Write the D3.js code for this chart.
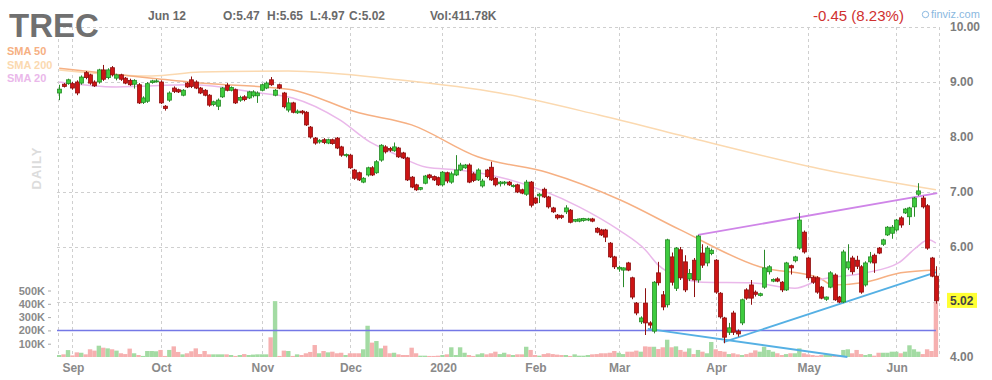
<!DOCTYPE html>
<html>
<head>
<meta charset="utf-8">
<script src="https://cdn.jsdelivr.net/npm/d3@7"></script>
<style>
body { margin: 0; background: #fff; }
text { font-family: Arial, "Liberation Sans", sans-serif; }
</style>
</head>
<body>
<svg id="chart" width="992" height="380"></svg>
<script>
// daily candles, Aug 28 2019 .. Jun 12 2020 (200 sessions)
var opens = [8.80,8.96,8.97,8.97,9.00,8.98,9.17,9.13,9.00,9.00,9.22,9.08,9.26,9.07,9.13,9.07,9.03,8.96,8.95,8.63,
  8.65,8.99,9.01,9.00,8.56,8.67,8.89,8.86,8.76,8.98,9.04,9.00,8.89,8.85,8.76,8.59,8.56,8.73,8.94,8.85,
  8.86,8.67,8.73,8.71,8.75,8.75,8.85,8.89,9.04,8.76,8.95,8.80,8.49,8.62,8.44,8.47,8.45,8.18,7.98,7.91,
  7.95,7.89,7.95,7.98,7.82,7.66,7.67,7.40,7.35,7.18,7.31,7.44,7.35,7.58,7.82,7.79,7.75,7.80,7.71,7.62,
  7.27,7.13,7.05,7.16,7.31,7.28,7.26,7.13,7.35,7.18,7.31,7.40,7.44,7.49,7.33,7.22,7.11,7.40,7.45,7.25,
  7.15,7.16,7.18,7.10,7.13,7.04,6.96,7.18,6.89,6.93,7.05,6.91,6.71,6.58,6.57,6.64,6.67,6.47,6.47,6.48,
  6.49,6.51,6.34,6.31,6.31,6.07,5.82,5.60,5.58,5.71,5.44,4.98,4.64,4.98,4.62,4.47,5.53,5.13,4.95,5.82,
  5.25,5.95,5.73,5.42,5.76,5.40,5.89,5.71,5.88,5.76,5.16,4.71,4.45,4.80,4.47,4.62,5.22,5.31,5.18,5.12,
  5.27,5.55,5.38,5.42,5.36,5.22,5.66,5.75,5.98,6.27,5.80,5.45,5.44,5.27,5.05,5.27,5.49,5.09,5.00,5.62,
  5.80,5.76,5.64,5.31,5.73,5.85,5.98,6.05,6.22,6.25,6.31,6.53,6.62,6.55,6.73,6.96,6.89,6.75,5.80,5.47];
var highs = [8.95,8.98,9.06,9.00,9.03,9.12,9.20,9.15,9.03,9.24,9.31,9.25,9.29,9.15,9.15,9.09,9.06,9.05,8.98,8.74,
  9.00,9.04,9.05,9.03,8.58,8.83,8.92,8.88,8.87,9.00,9.10,9.03,8.91,8.87,8.78,8.66,8.70,8.91,8.98,8.92,
  8.88,8.75,8.76,8.84,8.85,8.83,8.97,9.01,9.09,8.87,8.97,8.82,8.71,8.64,8.50,8.49,8.47,8.20,8.00,7.96,
  7.98,7.97,7.97,8.00,7.84,7.70,7.69,7.42,7.37,7.27,7.46,7.47,7.58,7.87,7.85,7.82,7.90,7.82,7.73,7.64,
  7.29,7.15,7.09,7.31,7.33,7.30,7.28,7.38,7.37,7.37,7.67,7.53,7.51,7.52,7.36,7.43,7.24,7.42,7.55,7.27,
  7.20,7.20,7.20,7.14,7.15,7.06,7.22,7.20,6.91,6.98,7.08,6.93,6.73,6.60,6.59,6.76,6.69,6.51,6.52,6.53,
  6.53,6.53,6.36,6.33,6.33,6.09,5.84,5.66,5.63,5.73,5.46,5.00,4.74,5.25,4.65,5.38,5.73,5.20,6.15,5.90,
  6.00,6.00,5.85,5.60,5.80,6.22,6.05,6.02,5.97,5.78,5.18,4.73,4.62,4.84,4.50,5.06,5.25,5.40,5.21,5.17,
  5.95,5.67,5.43,5.45,5.38,5.73,5.68,5.84,6.62,6.30,5.82,5.48,5.47,5.29,5.10,5.56,5.52,5.11,5.95,6.05,
  5.84,5.84,5.67,5.74,5.91,5.88,6.00,6.15,6.38,6.40,6.51,6.56,6.71,6.73,6.91,7.16,6.93,6.78,5.82,5.65];
var lows = [8.67,8.90,8.95,8.86,8.76,8.95,9.05,8.95,8.91,8.97,9.02,9.05,9.10,9.03,9.02,8.96,8.93,8.88,8.60,8.60,
  8.62,8.97,8.99,8.60,8.48,8.64,8.80,8.80,8.74,8.89,8.89,8.87,8.78,8.74,8.55,8.56,8.49,8.71,8.83,8.83,
  8.60,8.64,8.65,8.69,8.72,8.62,8.83,8.87,8.93,8.74,8.87,8.52,8.45,8.43,8.42,8.41,8.20,7.97,7.86,7.88,
  7.87,7.87,7.86,7.78,7.64,7.63,7.42,7.22,7.20,7.16,7.28,7.29,7.33,7.55,7.70,7.73,7.73,7.62,7.60,7.20,
  7.07,7.02,7.03,7.14,7.23,7.20,7.11,7.10,7.16,7.15,7.29,7.38,7.42,7.16,7.18,7.20,7.08,7.25,7.20,7.10,
  7.10,7.12,7.11,7.08,6.98,6.96,6.93,6.72,6.78,6.80,6.89,6.70,6.62,6.50,6.51,6.60,6.43,6.45,6.45,6.46,
  6.47,6.45,6.25,6.20,6.09,5.80,5.60,5.55,5.27,5.56,5.05,4.76,4.60,4.40,4.52,4.43,5.30,4.85,4.90,5.30,
  5.20,5.40,5.18,5.38,5.09,5.35,5.62,5.65,5.85,5.15,4.70,4.25,4.40,4.40,4.37,4.58,5.04,4.95,5.10,5.10,
  5.24,5.50,5.36,5.36,5.18,5.20,5.50,5.72,5.95,5.88,5.40,5.33,5.15,5.05,5.02,5.25,5.02,4.98,4.98,5.58,
  5.50,5.60,5.15,5.28,5.70,5.53,5.87,6.02,6.20,6.15,6.28,6.35,6.60,6.40,6.55,6.93,6.70,5.95,5.45,4.97];
var closes = [8.87,8.92,9.04,8.89,8.80,9.09,9.08,8.98,8.93,9.22,9.05,9.22,9.13,9.13,9.05,8.98,8.95,9.03,8.62,8.71,
  8.97,9.02,9.02,8.62,8.52,8.80,8.83,8.82,8.85,8.91,8.92,8.89,8.80,8.76,8.58,8.64,8.67,8.89,8.85,8.90,
  8.62,8.72,8.68,8.82,8.82,8.80,8.95,8.98,8.95,8.85,8.89,8.55,8.62,8.45,8.47,8.44,8.22,8.00,7.89,7.94,
  7.90,7.95,7.88,7.80,7.67,7.68,7.44,7.25,7.22,7.25,7.44,7.31,7.55,7.85,7.73,7.76,7.82,7.64,7.62,7.22,
  7.09,7.04,7.08,7.29,7.26,7.22,7.13,7.36,7.20,7.33,7.40,7.49,7.49,7.18,7.21,7.40,7.20,7.28,7.22,7.13,
  7.18,7.18,7.13,7.12,7.00,6.98,7.18,6.76,6.80,6.96,6.91,6.73,6.64,6.53,6.54,6.71,6.45,6.50,6.51,6.52,
  6.51,6.47,6.27,6.22,6.18,5.82,5.64,5.63,5.62,5.58,5.09,4.80,4.71,4.62,4.58,5.36,5.35,4.91,6.13,5.36,
  5.98,5.44,5.22,5.52,5.40,6.20,5.67,5.98,5.94,5.18,4.73,4.36,4.53,4.45,4.42,5.04,5.07,5.07,5.14,5.15,
  5.62,5.64,5.41,5.38,5.22,5.71,5.62,5.82,6.49,5.91,5.44,5.36,5.18,5.07,5.09,5.53,5.04,5.00,5.91,5.73,
  5.55,5.65,5.18,5.71,5.82,5.71,5.89,6.13,6.36,6.36,6.49,6.40,6.69,6.71,6.89,7.02,6.73,5.98,5.47,5.02];
// volume in thousands
var volumes = [15,20,52,12,35,32,20,58,48,85,70,65,58,48,28,22,63,28,15,8,
  45,45,43,53,8,53,80,38,20,28,43,65,22,45,20,20,20,20,20,15,
  8,15,22,15,18,20,20,20,148,420,8,48,45,8,20,15,28,38,90,28,
  45,35,40,28,32,15,28,28,28,58,235,108,120,65,85,28,32,20,15,15,
  70,28,10,10,8,8,10,15,20,73,15,73,32,15,8,20,28,20,28,40,
  22,32,20,15,20,20,77,53,15,10,22,28,22,18,15,15,8,20,10,10,
  15,20,22,28,28,32,45,32,22,40,40,48,40,80,77,77,60,73,130,73,
  80,53,40,65,22,53,40,28,113,58,45,40,22,28,20,15,22,32,50,40,
  77,53,40,28,15,22,28,28,65,28,20,15,10,15,20,15,10,10,53,58,
  28,53,22,15,22,10,32,32,32,40,40,28,40,88,58,40,22,58,45,412];

// moving averages: [session index, price]
var sma20 = [[0,9.00],[13,8.91],[30,8.95],[45.5,8.80],[53,8.71],[63.7,8.31],[70.5,7.91],[75.7,7.71],[83.4,7.45],
  [90.7,7.40],[100,7.27],[118,6.73],[127,6.31],[133,5.95],[136,5.67],[140.8,5.45],[146,5.36],[157,5.35],
  [167,5.25],[172.5,5.40],[183,5.53],[190.5,5.71],[194.4,5.98],[197.3,6.13],[199,6.07]];
var sma50 = [[0,9.25],[21,9.07],[32,8.98],[52,8.87],[68,8.44],[80,8.22],[95,7.64],[111,7.35],[127.5,6.85],
  [141,6.31],[159,5.64],[172.5,5.44],[175.5,5.31],[183,5.36],[191,5.53],[199,5.58]];
var sma200 = [[0,9.22],[21,9.11],[32,9.18],[52,9.20],[77,9.04],[100,8.80],[122.5,8.40],[145,7.95],[174,7.40],[199,7.04]];

// trend lines: [index, price] pairs
var trendPurple = [[145,6.22],[199.3,6.98]];
var trendBlueUp = [[150.8,4.27],[199.1,5.545]];
var trendBlueDown = [[133.6,4.51],[178.9,4.00]];
var supportLevel = 4.50;

var monthLabels = ["Sep","Oct","Nov","Dec","2020","Feb","Mar","Apr","May","Jun"];
var monthIdx = [3,23,46,66,87,108,127,149,170,190];
var priceTicks = [10,9,8,7,6,4];
var gridPrices = [10,9,8,7,6,5];
var volTicks = [100,200,300,400,500];
var lastPrice = 5.02;

var svg = d3.select("#chart");
var plotL = 57, plotR = 939, plotT = 27, plotB = 357;

var x = d3.scaleBand().domain(d3.range(closes.length)).range([plotL, plotR]).padding(0.2);
function cx(i) { return plotL + (i + 0.5) * x.step(); }
var y = d3.scaleLinear().domain([4, 10]).range([plotB, plotT]);
var yv = d3.scaleLinear().domain([0, 500]).range([plotB, 290.5]);

// grid
var grid = svg.append("g").attr("stroke", "#cfcfcf").attr("stroke-dasharray", "3,3").attr("shape-rendering", "crispEdges");
grid.selectAll(".h").data(gridPrices).enter().append("line")
  .attr("x1", plotL).attr("x2", plotR)
  .attr("y1", function(d) { return Math.round(y(d)) + 0.5; })
  .attr("y2", function(d) { return Math.round(y(d)) + 0.5; });
grid.selectAll(".v").data(monthIdx).enter().append("line")
  .attr("x1", function(d) { return Math.round(cx(d)) + 0.5; })
  .attr("x2", function(d) { return Math.round(cx(d)) + 0.5; })
  .attr("y1", plotT).attr("y2", plotB);
grid.selectAll(".b").data([plotL + 1, plotR]).enter().append("line")
  .attr("x1", function(d) { return d + 0.5; }).attr("x2", function(d) { return d + 0.5; })
  .attr("y1", plotT).attr("y2", plotB);

// volume bars
svg.append("g").selectAll("rect").data(volumes).enter().append("rect")
  .attr("x", function(d, i) { return cx(i) - 2.2; })
  .attr("width", 4.4)
  .attr("y", function(d) { return yv(d); })
  .attr("height", function(d) { return plotB - yv(d); })
  .attr("fill", function(d, i) { return closes[i] >= opens[i] ? "#a3dba3" : "#f6b0b0"; });

// moving averages
var line = d3.line()
  .x(function(d) { return cx(d[0]); })
  .y(function(d) { return y(d[1]); })
  .curve(d3.curveMonotoneX);
[[sma200, "#fbd9b0"], [sma50, "#f6b083"], [sma20, "#eab8ea"]].forEach(function(s) {
  svg.append("path").attr("d", line(s[0])).attr("fill", "none")
    .attr("stroke", s[1]).attr("stroke-width", 1.5);
});

// support + trend lines
svg.append("line").attr("x1", plotL).attr("x2", cx(199))
  .attr("y1", Math.round(y(supportLevel)) + 0.5).attr("y2", Math.round(y(supportLevel)) + 0.5)
  .attr("stroke", "#7478e6").attr("stroke-width", 1.3);
[[trendPurple, "#cf85e8"], [trendBlueUp, "#55b0e4"], [trendBlueDown, "#55b0e4"]].forEach(function(t) {
  var p = t[0];
  svg.append("line")
    .attr("x1", cx(p[0][0])).attr("y1", y(p[0][1]))
    .attr("x2", cx(p[1][0])).attr("y2", y(p[1][1]))
    .attr("stroke", t[1]).attr("stroke-width", 1.8);
});

// candles
var candles = svg.append("g").selectAll("g").data(closes).enter().append("g");
candles.append("line")
  .attr("x1", function(d, i) { return Math.round(cx(i)) + 0.5; })
  .attr("x2", function(d, i) { return Math.round(cx(i)) + 0.5; })
  .attr("y1", function(d, i) { return y(highs[i]); })
  .attr("y2", function(d, i) { return y(lows[i]); })
  .attr("stroke", function(d, i) { return d >= opens[i] ? "#2a8a2a" : "#8e1010"; });
candles.append("rect")
  .attr("x", function(d, i) { return Math.round(cx(i)) - 1.5; })
  .attr("width", 4)
  .attr("y", function(d, i) { return y(Math.max(d, opens[i])); })
  .attr("height", function(d, i) { return Math.max(1, Math.abs(y(d) - y(opens[i]))); })
  .attr("fill", function(d, i) { return d >= opens[i] ? "#3ecb3e" : "#cc1414"; })
  .attr("stroke", function(d, i) { return d >= opens[i] ? "#268a26" : "#8e1010"; })
  .attr("stroke-width", 0.8);

// right price axis
svg.append("g").selectAll("text").data(priceTicks).enter().append("text")
  .attr("x", 950).attr("y", function(d) { return y(d) + 4; })
  .attr("font-size", 12).attr("font-weight", "bold").attr("fill", "#7d7d7d")
  .text(function(d) { return d.toFixed(2); });
svg.append("rect").attr("x", 947).attr("y", y(lastPrice) - 8).attr("width", 30).attr("height", 15).attr("fill", "#ffff33");
svg.append("text").attr("x", 950).attr("y", y(lastPrice) + 4)
  .attr("font-size", 12).attr("font-weight", "bold").attr("fill", "#444").text(lastPrice.toFixed(2));

// left volume axis
var va = svg.append("g");
va.selectAll("text").data(volTicks).enter().append("text")
  .attr("x", 45).attr("y", function(d) { return yv(d) + 4; })
  .attr("text-anchor", "end").attr("font-size", 11).attr("font-weight", "bold").attr("fill", "#8a8a8a")
  .text(function(d) { return d + "K"; });
va.selectAll("line").data(volTicks).enter().append("line")
  .attr("x1", 48).attr("x2", 51)
  .attr("y1", function(d) { return yv(d) + 0.5; }).attr("y2", function(d) { return yv(d) + 0.5; })
  .attr("stroke", "#aaa");

// date axis
svg.append("g").selectAll("text").data(monthLabels).enter().append("text")
  .attr("x", function(d, i) { return cx(monthIdx[i]) + 1; }).attr("y", 372)
  .attr("text-anchor", "middle").attr("font-size", 12).attr("font-weight", "bold").attr("fill", "#8a8a8a")
  .text(function(d) { return d; });

// header
svg.append("text").attr("x", 9).attr("y", 37).attr("font-size", 33).attr("font-weight", "bold")
  .attr("fill", "#707070").text("TREC");
svg.append("text").attr("x", 148).attr("y", 20).attr("font-size", 12).attr("font-weight", "bold")
  .attr("fill", "#6a6a6a").text("Jun 12");
var ohlc = ["O:5.47", "H:5.65", "L:4.97", "C:5.02", "Vol:411.78K"];
var ohlcX = [223, 267, 310, 349, 430];
svg.append("g").selectAll("text").data(ohlc).enter().append("text")
  .attr("x", function(d, i) { return ohlcX[i]; }).attr("y", 20)
  .attr("font-size", 12).attr("font-weight", "bold").attr("fill", "#6a6a6a")
  .text(function(d) { return d; });
svg.append("text").attr("x", 813).attr("y", 21).attr("font-size", 15).attr("fill", "#d0302f")
  .text("-0.45 (8.23%)");
svg.append("circle").attr("cx", 925.5).attr("cy", 14.5).attr("r", 3.2)
  .attr("fill", "none").attr("stroke", "#8ab8e0").attr("stroke-width", 1);
svg.append("text").attr("x", 931).attr("y", 18).attr("font-size", 11).attr("fill", "#8ab8e0").text("finviz.com");

// sma legend
var legend = [["SMA 50", "#f6b083"], ["SMA 200", "#fbd9b0"], ["SMA 20", "#eab8ea"]];
svg.append("g").selectAll("text").data(legend).enter().append("text")
  .attr("x", 7).attr("y", function(d, i) { return 55 + i * 13.5; })
  .attr("font-size", 11).attr("font-weight", "bold").attr("fill", function(d) { return d[1]; })
  .text(function(d) { return d[0]; });

svg.append("text").attr("transform", "translate(41,168) rotate(-90)")
  .attr("text-anchor", "middle").attr("font-size", 13).attr("font-weight", "bold").attr("fill", "#dcdcdc")
  .attr("letter-spacing", 1).text("DAILY");
</script>
</body>
</html>
